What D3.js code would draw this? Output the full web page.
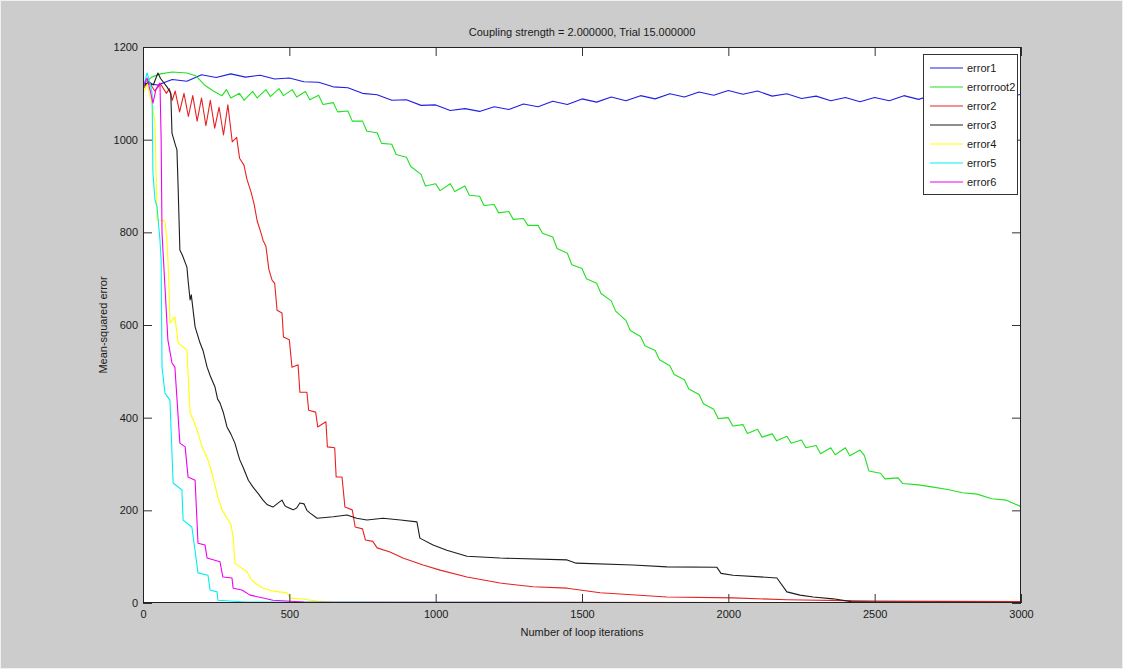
<!DOCTYPE html>
<html>
<head>
<meta charset="utf-8">
<script src="https://cdn.jsdelivr.net/npm/d3@7"></script>
<style>
  html, body { margin: 0; padding: 0; background: #cccccc; }
  svg { display: block; }
  text { font-family: "Liberation Sans", Arial, sans-serif; fill: #1a1a1a; }
</style>
</head>
<body>
<div id="chart"></div>
<script>
// tick values and labels
var xTicks = [0, 500, 1000, 1500, 2000, 2500, 3000];
var yTicks = [0, 200, 400, 600, 800, 1000, 1200];
var seriesNames = ["error1", "errorroot2", "error2", "error3", "error4", "error5", "error6"];

// [iteration, error] pairs
var error1 = [[0,1122],[50,1118],[100,1130],[150,1126],[200,1140],[250,1134],[300,1142],[350,1135],[400,1139],[450,1131],
  [500,1133],[550,1125],[600,1124],[650,1114],[700,1112],[750,1100],[800,1097],[850,1085],[900,1086],[950,1074],
  [1000,1075],[1050,1063],[1100,1067],[1150,1061],[1200,1071],[1250,1065],[1300,1077],[1350,1071],[1400,1083],[1450,1076],
  [1500,1088],[1550,1081],[1600,1092],[1650,1084],[1700,1095],[1750,1088],[1800,1099],[1850,1092],[1900,1103],[1950,1096],
  [2000,1106],[2050,1098],[2100,1105],[2150,1094],[2200,1099],[2250,1089],[2300,1094],[2350,1084],[2400,1091],[2450,1082],
  [2500,1091],[2550,1084],[2600,1095],[2650,1087],[2700,1097],[2750,1088],[2800,1095],[2850,1088],[2900,1097],[2950,1090],[3000,1098]];

var errorroot2 = [[0,1120],[30,1135],[60,1142],[100,1146],[150,1144],[180,1138],[210,1118],[240,1105],[270,1095],[285,1108],
  [300,1090],[330,1100],[345,1085],[375,1104],[390,1090],[420,1108],[435,1093],[465,1110],[480,1095],[510,1108],
  [525,1092],[555,1104],[570,1086],[600,1096],[615,1076],[650,1080],[665,1060],[700,1062],[715,1040],[750,1040],
  [765,1018],[800,1015],[815,992],[850,990],[865,968],[900,962],[915,942],[950,925],[965,900],[1000,905],
  [1015,890],[1050,905],[1065,888],[1100,900],[1115,880],[1150,878],[1165,858],[1200,860],[1215,842],[1250,845],
  [1265,828],[1300,830],[1315,815],[1350,815],[1365,798],[1400,790],[1415,765],[1450,755],[1465,730],[1500,722],
  [1515,700],[1550,690],[1565,668],[1600,652],[1615,630],[1650,610],[1665,588],[1700,575],[1715,555],[1750,545],
  [1765,525],[1800,512],[1815,493],[1850,482],[1865,462],[1900,450],[1915,430],[1950,418],[1965,398],[2000,400],
  [2015,382],[2050,385],[2065,366],[2100,375],[2115,358],[2150,365],[2165,350],[2200,360],[2215,345],[2250,352],
  [2265,335],[2300,340],[2315,322],[2350,335],[2365,320],[2400,335],[2415,318],[2450,330],[2465,318],[2480,285],
  [2520,280],[2535,268],[2580,270],[2595,258],[2650,255],[2700,250],[2750,245],[2800,238],[2850,235],[2900,225],
  [2950,222],[3000,208]];

var error2 = [[0,1110],[20,1125],[40,1105],[60,1120],[80,1100],[90,1110],[100,1085],[110,1105],[125,1060],[140,1100],
  [155,1050],[170,1095],[185,1040],[200,1090],[215,1030],[230,1085],[245,1025],[260,1070],[275,1010],[290,1075],
  [305,995],[320,1005],[330,960],[345,945],[355,915],[370,885],[380,860],[390,825],[405,795],[410,783],
  [420,770],[430,720],[441,697],[450,690],[458,632],[475,626],[480,574],[500,568],[509,509],[530,514],
  [536,455],[560,455],[566,416],[590,412],[597,380],[625,391],[630,337],[655,335],[660,272],[680,272],
  [690,207],[715,201],[725,164],[750,160],[760,136],[785,133],[800,119],[844,110],[888,97],[957,82],
  [1015,71],[1107,56],[1220,43],[1333,35],[1449,32],[1562,22],[1790,13],[2016,11],[2200,7],[2500,4],[3000,3]];

var error3 = [[0,1115],[20,1125],[35,1118],[51,1144],[60,1132],[82,1114],[95,1100],[99,1014],[110,990],[116,978],
  [120,898],[126,762],[135,750],[150,725],[155,690],[161,654],[165,665],[178,596],[195,561],[205,545],
  [219,509],[230,490],[246,466],[255,440],[263,432],[275,410],[287,380],[300,365],[314,345],[330,310],
  [342,293],[360,265],[376,250],[395,235],[410,222],[425,212],[444,207],[460,215],[475,222],[485,210],
  [492,207],[513,201],[525,205],[536,216],[550,214],[560,200],[571,194],[595,183],[650,186],[697,190],
  [730,183],[765,179],[820,183],[880,179],[936,175],[946,140],[991,125],[1038,114],[1107,101],[1220,97],
  [1449,93],[1480,86],[1674,82],[1790,78],[1961,77],[1975,64],[2016,60],[2166,54],[2200,24],[2245,17],
  [2290,13],[2358,9],[2420,3],[2500,2],[3000,1]];

var error4 = [[0,1100],[15,1120],[25,1090],[31,1079],[41,1036],[48,827],[60,825],[65,827],[75,823],[82,783],
  [88,700],[92,604],[100,610],[109,617],[120,561],[150,546],[161,410],[175,390],[188,367],[200,340],
  [222,309],[236,280],[255,230],[270,201],[300,170],[308,143],[314,86],[331,78],[355,68],[370,50],
  [390,40],[410,32],[450,25],[492,22],[502,11],[550,8],[595,4],[650,2],[3000,0]];

var error5 = [[0,1110],[14,1144],[25,1120],[31,1101],[34,928],[41,870],[48,855],[58,783],[62,740],[65,509],
  [75,453],[92,438],[103,259],[133,244],[137,179],[167,164],[188,65],[222,60],[229,28],[253,24],
  [256,6],[350,2],[3000,0]];

var error6 = [[0,1114],[14,1133],[25,1105],[34,1079],[45,1110],[58,1122],[62,1000],[65,798],[85,568],[99,518],
  [109,509],[126,345],[144,337],[154,272],[178,265],[188,129],[212,125],[219,97],[263,89],[273,56],
  [304,54],[308,32],[338,28],[366,17],[444,6],[550,2],[3000,0]];

var allSeries = [error1, errorroot2, error2, error3, error4, error5, error6];
var colors = ["#1f1fe6", "#22e022", "#e82222", "#1e1e1e", "#ffff00", "#00f0f0", "#f000f0"];

var svgWidth = 1123;
var svgHeight = 669;
var plot = { left: 143, right: 1021, top: 47, bottom: 603 };

var svg = d3.select("#chart")
  .append("svg")
  .attr("width", svgWidth)
  .attr("height", svgHeight);

svg.append("rect")
  .attr("x", 0.5).attr("y", 0.5)
  .attr("width", svgWidth - 1).attr("height", svgHeight - 1)
  .attr("fill", "#cccccc")
  .attr("stroke", "#f0f0f0");

var xScale = d3.scaleLinear().domain([0, 3000]).range([plot.left, plot.right]);
var yScale = d3.scaleLinear().domain([0, 1200]).range([plot.bottom, plot.top]);

// white axes area
svg.append("rect")
  .attr("x", plot.left).attr("y", plot.top)
  .attr("width", plot.right - plot.left)
  .attr("height", plot.bottom - plot.top)
  .attr("fill", "#ffffff");

// the lines, clipped to the axes
svg.append("clipPath").attr("id", "clip")
  .append("rect")
  .attr("x", plot.left).attr("y", plot.top - 1)
  .attr("width", plot.right - plot.left)
  .attr("height", plot.bottom - plot.top + 1);

var line = d3.line()
  .x(function(d) { return xScale(d[0]); })
  .y(function(d) { return yScale(d[1]); });

var lineGroup = svg.append("g").attr("clip-path", "url(#clip)");
allSeries.forEach(function(s, i) {
  lineGroup.append("path")
    .datum(s)
    .attr("d", line)
    .attr("fill", "none")
    .attr("stroke", colors[i])
    .attr("stroke-width", 1.1)
    .attr("stroke-linejoin", "round");
});

// axes, ticks inside like matlab
var bottomAxis = d3.axisBottom(xScale).tickValues(xTicks).tickSize(-9).tickPadding(7).tickFormat(d3.format("d"));
var topAxis = d3.axisTop(xScale).tickValues(xTicks).tickSize(-9).tickFormat("");
var leftAxis = d3.axisLeft(yScale).tickValues(yTicks).tickSize(-9).tickPadding(5).tickFormat(d3.format("d"));
var rightAxis = d3.axisRight(yScale).tickValues(yTicks).tickSize(-9).tickFormat("");

function styleAxis(g) {
  g.select(".domain").remove();
  g.selectAll(".tick line").attr("stroke", "#333").attr("stroke-width", 1);
  g.selectAll(".tick text").attr("fill", "#1a1a1a").style("font-size", "11px")
    .style("font-family", "'Liberation Sans', Arial, sans-serif");
}

svg.append("g").attr("transform", "translate(0," + plot.bottom + ")").call(bottomAxis).call(styleAxis);
svg.append("g").attr("transform", "translate(0," + plot.top + ")").call(topAxis).call(styleAxis);
svg.append("g").attr("transform", "translate(" + plot.left + ",0)").call(leftAxis).call(styleAxis);
svg.append("g").attr("transform", "translate(" + plot.right + ",0)").call(rightAxis).call(styleAxis);

// box
svg.append("rect")
  .attr("x", plot.left + 0.5).attr("y", plot.top + 0.5)
  .attr("width", plot.right - plot.left - 1)
  .attr("height", plot.bottom - plot.top - 1)
  .attr("fill", "none")
  .attr("stroke", "#222")
  .attr("stroke-width", 1);

// title and axis labels
svg.append("text")
  .attr("x", (plot.left + plot.right) / 2)
  .attr("y", 36)
  .attr("text-anchor", "middle")
  .style("font-size", "11px")
  .text("Coupling strength = 2.000000, Trial 15.000000");

svg.append("text")
  .attr("x", (plot.left + plot.right) / 2)
  .attr("y", 636)
  .attr("text-anchor", "middle")
  .style("font-size", "11px")
  .text("Number of loop iterations");

svg.append("text")
  .attr("transform", "translate(107," + ((plot.top + plot.bottom) / 2) + ") rotate(-90)")
  .attr("text-anchor", "middle")
  .style("font-size", "11px")
  .text("Mean-squared error");

// legend
var legend = svg.append("g").attr("transform", "translate(923,54)");
legend.append("rect")
  .attr("x", 0.5).attr("y", 0.5)
  .attr("width", 94).attr("height", 140)
  .attr("fill", "#ffffff")
  .attr("stroke", "#333");

var legendItems = legend.selectAll(".item")
  .data(seriesNames)
  .enter().append("g")
  .attr("class", "item")
  .attr("transform", function(d, i) { return "translate(0," + (14 + i * 19) + ")"; });

legendItems.append("line")
  .attr("x1", 7).attr("x2", 40)
  .attr("y1", 0).attr("y2", 0)
  .attr("stroke", function(d, i) { return colors[i]; })
  .attr("stroke-width", 1.2);

legendItems.append("text")
  .attr("x", 44).attr("y", 4)
  .style("font-size", "11px")
  .text(function(d) { return d; });
</script>
</body>
</html>
